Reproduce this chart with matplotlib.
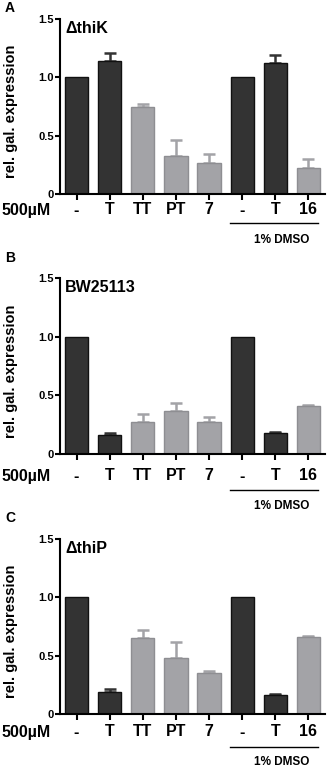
import matplotlib.pyplot as plt
import numpy as np

plt.rcParams['font.family'] = ['Liberation Sans', 'DejaVu Sans']
plt.rcParams['font.weight'] = 'bold'

# datos
etiquetas = ['-', 'T', 'TT', 'PT', '7', '-', 'T', '16']
tipo_barra = ['oscuro', 'oscuro', 'gris', 'gris', 'gris', 'oscuro', 'oscuro', 'gris']
letras = ['A', 'B', 'C']
cepas = ['ΔthiK', 'BW25113', 'ΔthiP']

media_thik = [1.0, 1.14, 0.747, 0.324, 0.27, 1.0, 1.12, 0.227]
error_thik = [0.0, 0.07, 0.028, 0.142, 0.07, 0.0, 0.07, 0.073]

media_bw = [1.0, 0.164, 0.27, 0.37, 0.275, 1.0, 0.176, 0.408]
error_bw = [0.0, 0.016, 0.075, 0.066, 0.042, 0.0, 0.014, 0.012]

media_thip = [1.0, 0.19, 0.654, 0.479, 0.354, 1.0, 0.164, 0.66]
error_thip = [0.0, 0.028, 0.066, 0.139, 0.016, 0.0, 0.006, 0.008]

medias = [media_thik, media_bw, media_thip]
errores = [error_thik, error_bw, error_thip]

W, H = 327, 770
# (arriba, abajo) de cada panel en pixeles, y desplazamientos de textos bajo el eje
paneles = [(19, 194), (278, 454), (539, 714)]
desp_etiq = [16, 22, 18]
desp_linea = [29, 36, 33]
desp_dmso = [46, 52, 48]
desp_letra = [11, 20, 21]

relleno = {'oscuro': '#333333', 'gris': '#a3a3a7'}
borde = {'oscuro': '#111111', 'gris': '#8e8e92'}

fig = plt.figure(figsize=(W / 100, H / 100), dpi=100)

for i in range(3):
    arriba, abajo = paneles[i]
    ax = fig.add_axes([60 / W, 1 - abajo / H, 265 / W, (abajo - arriba) / H])
    x = np.arange(len(etiquetas))
    for j in range(len(etiquetas)):
        t = tipo_barra[j]
        if errores[i][j] > 0:
            ax.errorbar(x[j], medias[i][j], yerr=[[0], [errores[i][j]]], fmt='none',
                        ecolor=relleno[t], elinewidth=1.8, capsize=4.3, capthick=1.8, zorder=1)
        ax.bar(x[j], medias[i][j], width=0.7, color=relleno[t], edgecolor=borde[t],
               linewidth=1.0, zorder=2)

    ax.set_xlim(-0.5, 7.5)
    ax.set_ylim(0, 1.5)
    ax.set_yticks([0, 0.5, 1.0, 1.5], ['0', '0.5', '1.0', '1.5'])
    ax.set_xticks(x, [])
    ax.spines['top'].set_visible(False)
    ax.spines['right'].set_visible(False)
    ax.spines['left'].set_linewidth(1.5)
    ax.spines['bottom'].set_linewidth(1.5)
    ax.tick_params(axis='y', length=3.5, width=1.5, labelsize=8, pad=1)
    ax.tick_params(axis='x', length=4, width=1.5)
    ax.set_ylabel('rel. gal. expression', fontsize=10.5, fontweight='bold')
    ax.yaxis.set_label_coords(-0.16, 0.47)

    ax.text(0.02, 0.99, cepas[i], transform=ax.transAxes, fontsize=11.5,
            fontweight='bold', va='top', ha='left')

    # etiquetas del eje x como texto
    y_etiq = 1 - (abajo + desp_etiq[i]) / H
    for j in range(len(etiquetas)):
        px = 60 + (x[j] + 0.5) * 265 / 8
        fig.text(px / W, y_etiq, etiquetas[j], fontsize=11.5, fontweight='bold',
                 ha='center', va='center')
    fig.text(2 / W, y_etiq, '500µM', fontsize=11.5, fontweight='bold', ha='left', va='center')

    y_linea = 1 - (abajo + desp_linea[i]) / H
    fig.add_artist(plt.Line2D([230 / W, 318 / W], [y_linea, y_linea], color='black', linewidth=1.0))
    fig.text(282 / W, 1 - (abajo + desp_dmso[i]) / H, '1% DMSO', fontsize=8.5,
             fontweight='bold', ha='center', va='center')

    fig.text(5 / W, 1 - (arriba - desp_letra[i]) / H, letras[i], fontsize=10, fontweight='bold',
             ha='left', va='center')

fig.savefig('out.png', dpi=100)
